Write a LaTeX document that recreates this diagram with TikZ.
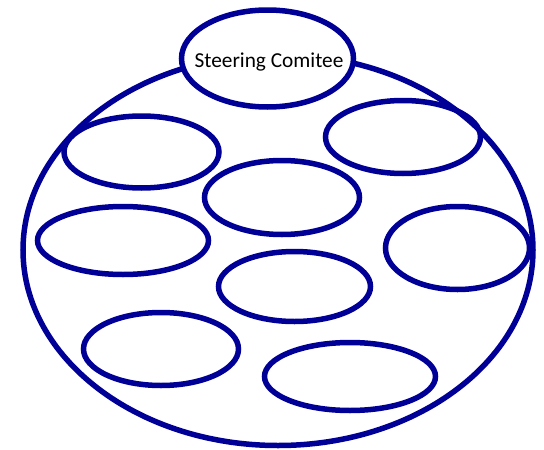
\documentclass[tikz,border=0pt]{standalone}
\usepackage{fontspec}
\setmainfont{Carlito}
\usetikzlibrary{shapes.geometric}
\definecolor{navyline}{RGB}{0,0,150}
\tikzset{
  oval/.style={ellipse, draw=navyline, line width=5.5pt, inner sep=0pt},
  caption/.style={inner sep=0pt, anchor=base, font=\fontsize{21.3}{25}\selectfont},
}
\begin{document}
\begin{tikzpicture}[x=1pt,y=-1pt]
\useasboundingbox (0,0) rectangle (544,450);
\node[oval, minimum width=510pt, minimum height=391pt] (outer) at (278,250) {};
\node[oval, fill=white, minimum width=172pt, minimum height=97pt] (steer) at (267.5,58.5) {};
\node[caption] (steertext) at (269,67) {Steering Comitee};
\node[oval, minimum width=155pt, minimum height=72pt] (g1) at (141.5,152) {};
\node[oval, minimum width=155pt, minimum height=73pt] (g2) at (403,137) {};
\node[oval, minimum width=155pt, minimum height=74pt] (g3) at (282,197.5) {};
\node[oval, minimum width=171pt, minimum height=68pt] (g4) at (123,240.5) {};
\node[oval, minimum width=144pt, minimum height=83pt] (g5) at (457.5,248) {};
\node[oval, minimum width=152pt, minimum height=70pt] (g6) at (294.5,286.5) {};
\node[oval, minimum width=155pt, minimum height=73pt] (g7) at (161,349) {};
\node[oval, minimum width=171pt, minimum height=68pt] (g8) at (350,376.5) {};
\end{tikzpicture}
\end{document}
